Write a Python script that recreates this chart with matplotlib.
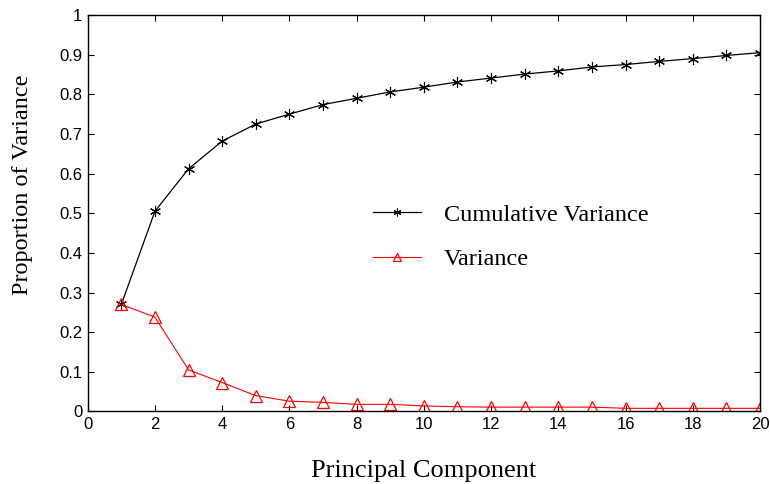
import matplotlib
matplotlib.use("Agg")
import matplotlib.pyplot as plt

# principal components 1..20
components = list(range(1, 21))
cumulative = [0.27, 0.505, 0.612, 0.682, 0.725, 0.750, 0.774, 0.790, 0.806, 0.818,
              0.831, 0.841, 0.851, 0.859, 0.869, 0.875, 0.883, 0.890, 0.898, 0.905]
variance = [0.27, 0.238, 0.105, 0.073, 0.040, 0.026, 0.023, 0.018, 0.018, 0.014,
            0.012, 0.011, 0.011, 0.011, 0.011, 0.008, 0.008, 0.008, 0.008, 0.008]

xticks = list(range(0, 21, 2))
yticks = [i / 10 for i in range(11)]
yticklabels = ["0", "0.1", "0.2", "0.3", "0.4", "0.5", "0.6", "0.7", "0.8", "0.9", "1"]

fig = plt.figure(figsize=(7.7, 4.84), dpi=100)
ax = fig.add_axes([0.1139, 0.1498, 0.8731, 0.8192])

ax.plot(components, cumulative, color="black", lw=0.9, marker=(6, 2, 0),
        markersize=8, markeredgewidth=0.8, label="Cumulative Variance")
ax.plot(components, variance, color="red", lw=0.8, marker="^", markersize=9,
        markerfacecolor="none", markeredgecolor="red", markeredgewidth=0.9,
        label="Variance")

ax.set_xlim(0, 20)
ax.set_ylim(0, 1)
ax.set_xticks(xticks)
ax.set_yticks(yticks)
ax.set_yticklabels(yticklabels)
ax.tick_params(direction="in", top=True, right=True, length=4, width=0.8,
               labelsize=12, pad=4)
for lab in ax.get_xticklabels() + ax.get_yticklabels():
    lab.set_family("Liberation Sans")
for s in ax.spines.values():
    s.set_linewidth(1.0)

ax.set_xlabel("Principal Component", family="Liberation Serif", size=19, labelpad=20)
ax.set_ylabel("Proportion of Variance", family="Liberation Serif", size=17.5)
ax.yaxis.set_label_coords(-0.082, 0.572)

leg = ax.legend(loc="center left", bbox_to_anchor=(0.425, 0.440), frameon=False,
                borderaxespad=0, borderpad=0, handlelength=1.95, handletextpad=0.95,
                labelspacing=0.93, markerscale=0.7,
                prop={"family": "Liberation Serif", "size": 17.5})

fig.savefig("out.png", dpi=100)
